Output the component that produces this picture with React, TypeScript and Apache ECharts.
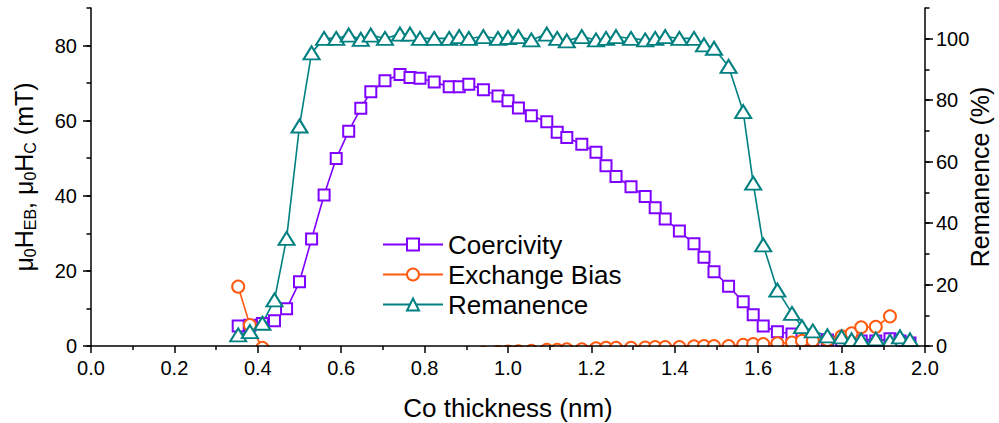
import React, { useEffect, useRef } from "react";
import * as echarts from "echarts";

// Co thickness (nm) of each measured point
const thickness = [
  0.353, 0.381, 0.411, 0.44, 0.469, 0.5, 0.529, 0.559, 0.588, 0.618, 0.647, 0.671, 0.705, 0.741,
  0.765, 0.789, 0.823, 0.859, 0.883, 0.906, 0.941, 0.976, 1.0, 1.025, 1.056, 1.093, 1.118, 1.141,
  1.177, 1.211, 1.235, 1.259, 1.295, 1.329, 1.353, 1.377, 1.411, 1.446, 1.47, 1.494, 1.529, 1.564,
  1.588, 1.612, 1.646, 1.681, 1.705, 1.731, 1.766, 1.8, 1.824, 1.847, 1.882, 1.916, 1.94, 1.964,
];

// μ0HC (mT)
const coercivity = [
  5.3, 5.5, 6.0, 6.7, 9.9, 17.1, 28.5, 40.2, 49.9, 57.2, 63.3, 67.7, 70.6, 72.3, 71.5, 71.3, 70.3,
  69.0, 69.0, 69.7, 68.2, 66.6, 65.3, 63.4, 61.3, 59.7, 56.9, 55.5, 53.7, 51.6, 48.0, 45.1, 42.4,
  39.8, 36.8, 33.8, 30.6, 27.2, 23.6, 19.8, 15.9, 11.8, 8.3, 5.3, 3.8, 3.2, 2.1, 1.6, 1.6, 1.3, 1.3,
  1.3, 1.3, 1.9, 1.3, 0.8,
];

// μ0HEB (mT)
const exchangeBias: (number | null)[] = [
  15.8, 5.6, -0.5, null, null, null, null, null, null, null, null, null, null, null, null, null,
  null, null, null, -2.0, -1.8, -1.6, -1.5, -1.4, -1.3, -1.0, -1.0, -0.9, -0.9, -0.6, -0.5, -0.5,
  -0.5, -0.4, -0.3, -0.3, -0.3, -0.1, 0.0, 0.0, 0.0, 0.3, 0.5, 0.5, 0.7, 0.9, 1.4, 1.4, 1.6, 2.6,
  3.4, 5.0, 5.1, 7.9, null, null,
];

// Remanence (%)
const remanence = [
  3.6, 4.7, 7.4, 15.0, 35.0, 71.6, 95.4, 100.1, 100.1, 101.2, 99.8, 101.2, 100.1, 101.5, 101.5,
  100.1, 100.1, 100.1, 100.7, 100.1, 100.7, 100.1, 100.4, 100.7, 99.6, 101.5, 100.1, 99.3, 100.7,
  99.6, 100.1, 100.7, 100.1, 99.6, 100.1, 100.7, 100.1, 100.1, 98.0, 96.9, 91.0, 76.3, 53.0, 32.9,
  18.2, 10.6, 6.3, 4.9, 3.3, 3.0, 2.0, 2.0, 2.3, 1.6, 3.0, 2.0,
];

const leftTicks = [0, 20, 40, 60, 80];
const rightTicks = [0, 20, 40, 60, 80, 100];
const seriesNames = ["Coercivity", "Exchange Bias", "Remanence"];

const FONT = '"Liberation Sans", Arial, sans-serif';
const PURPLE = "#8000FF";
const ORANGE = "#FF5A0F";
const TEAL = "#008080";

export default function App() {
  const ref = useRef<HTMLDivElement>(null);

  useEffect(() => {
    if (!ref.current) return;
    const chart = echarts.init(ref.current, null, { renderer: "svg" });
    const pair = (vals: (number | null)[]) =>
      thickness.map((t, i) => [t, vals[i] === null ? "-" : vals[i]]);

    const axisLine = { show: true, lineStyle: { color: "#000", width: 1.5 } };
    const labelStyle = { color: "#000", fontSize: 20, fontFamily: FONT };
    const nameStyle = { color: "#000", fontSize: 25, fontFamily: FONT };

    const option: any = {
      animation: false,
      backgroundColor: "#fff",
      grid: { left: 91, top: 8, width: 834, height: 338, containLabel: false, outerBoundsMode: "none" },
      legend: {
        orient: "vertical",
        left: 377,
        top: 226,
        itemWidth: 60,
        itemHeight: 15,
        itemGap: 3,
        selectedMode: false,
        data: seriesNames,
        textStyle: { color: "#000", fontSize: 26, fontFamily: FONT, lineHeight: 27 },
      },
      xAxis: {
        type: "value",
        min: 0,
        max: 2,
        interval: 0.2,
        z: 10,
        axisLine,
        axisTick: { show: true, inside: false, length: 7, lineStyle: { color: "#000", width: 1.5 } },
        minorTick: { show: true, splitNumber: 2, length: 4, lineStyle: { color: "#000", width: 1.5 } },
        splitLine: { show: false },
        minorSplitLine: { show: false },
        axisLabel: { ...labelStyle, margin: 12, formatter: (v: number) => v.toFixed(1) },
        name: "Co thickness (nm)",
        nameLocation: "middle",
        nameGap: 49,
        nameMoveOverlap: false,
        nameTextStyle: { ...nameStyle, fontSize: 26 },
      },
      yAxis: [
        {
          type: "value",
          position: "left",
          min: 0,
          max: 90,
          interval: 20,
          z: 10,
          axisLine,
          axisTick: { show: true, length: 8, customValues: leftTicks, lineStyle: { color: "#000", width: 1.5 } },
          axisLabel: { ...labelStyle, margin: 14, customValues: leftTicks },
          splitLine: { show: false },
          name: "{a|μ}{s|0}{a|H}{s|EB}{a|, μ}{s|0}{a|H}{s|C}{a| (mT)}",
          nameLocation: "middle",
          nameGap: 53,
          nameRotate: 90,
          nameMoveOverlap: false,
          nameTextStyle: {
            ...nameStyle,
            rich: {
              a: { ...nameStyle, lineHeight: 28 },
              s: { color: "#000", fontFamily: FONT, fontSize: 16, lineHeight: 17, verticalAlign: "bottom" },
            },
          },
        },
        {
          type: "value",
          position: "right",
          min: 0,
          max: 110,
          interval: 20,
          z: 10,
          axisLine,
          axisTick: { show: true, length: 8, customValues: rightTicks, lineStyle: { color: "#000", width: 1.5 } },
          axisLabel: { ...labelStyle, margin: 11, customValues: rightTicks },
          splitLine: { show: false },
          name: "Remanence (%)",
          nameLocation: "middle",
          nameGap: 42,
          nameRotate: 90,
          nameMoveOverlap: false,
          nameTextStyle: nameStyle,
        },
        {
          type: "value",
          position: "left",
          min: 0,
          max: 90,
          interval: 10,
          z: 10,
          axisLine: { show: false },
          axisTick: { show: true, length: 4.5, lineStyle: { color: "#000", width: 1.5 } },
          axisLabel: { show: false },
          splitLine: { show: false },
        },
        {
          type: "value",
          position: "right",
          min: 0,
          max: 110,
          interval: 10,
          z: 10,
          axisLine: { show: false },
          axisTick: { show: true, length: 4.5, lineStyle: { color: "#000", width: 1.5 } },
          axisLabel: { show: false },
          splitLine: { show: false },
        },
      ],
      graphic: [
        {
          type: "rect",
          silent: true,
          z: 5,
          shape: { x: 88, y: 347, width: 840, height: 14 },
          style: { fill: "#fff" },
        },
      ],
      series: [
        {
          name: "Coercivity",
          type: "line",
          yAxisIndex: 0,
          data: pair(coercivity),
          symbol: "rect",
          symbolSize: 11,
          clip: false,
          z: 3,
          itemStyle: { color: "#fff", borderColor: PURPLE, borderWidth: 2 },
          lineStyle: { color: PURPLE, width: 1.6 },
          emphasis: { disabled: true },
        },
        {
          name: "Exchange Bias",
          type: "line",
          yAxisIndex: 0,
          data: pair(exchangeBias),
          symbol: "circle",
          symbolSize: 12,
          clip: false,
          z: 3,
          itemStyle: { color: "#fff", borderColor: ORANGE, borderWidth: 2 },
          lineStyle: { color: ORANGE, width: 1.6 },
          emphasis: { disabled: true },
        },
        {
          name: "Remanence",
          type: "line",
          yAxisIndex: 1,
          data: pair(remanence),
          symbol: "triangle",
          symbolSize: [16, 13],
          clip: false,
          z: 3,
          itemStyle: { color: "#fff", borderColor: TEAL, borderWidth: 2 },
          lineStyle: { color: TEAL, width: 1.6 },
          emphasis: { disabled: true },
        },
      ],
    };
    chart.setOption(option);
    return () => chart.dispose();
  }, []);

  return (
    <div
      ref={ref}
      style={{ position: "fixed", left: 0, top: 0, width: 999, height: 423, background: "#fff" }}
    />
  );
}
